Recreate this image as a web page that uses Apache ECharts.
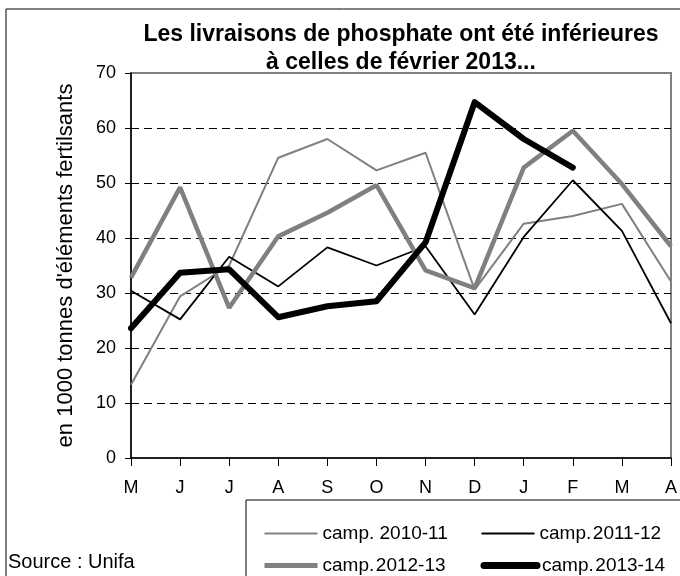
<!DOCTYPE html>
<html><head><meta charset="utf-8">
<script src="https://cdn.jsdelivr.net/npm/echarts@6/dist/echarts.min.js"></script>
<style>html,body{margin:0;padding:0;background:#fff}#c{width:680px;height:576px}</style>
</head><body><div id="c"></div>
<script>
const months = ['M','J','J','A','S','O','N','D','J','F','M','A'];
const yTicks = [0,10,20,30,40,50,60,70];
const names = ['camp. 2010-11','camp.\u200a2011-12','camp.\u200a2012-13','camp.\u200a2013-14'];
const s2010 = [13.3,29.4,35.0,54.6,58.0,52.3,55.5,30.6,42.6,44.0,46.2,32.1];
const s2011 = [30.4,25.2,36.6,31.2,38.3,35.0,38.5,26.1,40.2,50.5,41.3,24.5];
const s2012 = [32.8,49.2,27.3,40.3,44.6,49.6,34.1,30.9,52.8,59.5,49.8,38.5];
const s2013 = [23.6,33.7,34.3,25.6,27.6,28.5,39.2,64.7,58.0,52.8];

const font = 'Liberation Sans, Arial, sans-serif';
const chart = echarts.init(document.getElementById('c'));
chart.setOption({
  animation: false,
  title: {
    text: 'Les livraisons de phosphate ont été inférieures\nà celles de février 2013...',
    left: 396, top: 16, textAlign: 'center',
    textStyle: {fontFamily: font, fontSize: 23, fontWeight: 'bold', color: '#000', lineHeight: 28}
  },
  graphic: [
    {type: 'rect', shape: {x: 6, y: 9, width: 700, height: 600}, style: {fill: 'none', stroke: '#000', lineWidth: 1}, z: -10},
    {type: 'rect', shape: {x: 246, y: 500, width: 500, height: 100}, style: {fill: '#fff', stroke: '#000', lineWidth: 1}, z: 0},
    {type: 'text', left: 8, top: 552, style: {text: 'Source : Unifa', font: '20px ' + font, fill: '#000'}}
  ],
  legend: {
    data: [
      {name: names[0], lineStyle: {width: 2, color: '#808080'}},
      {name: names[1], lineStyle: {width: 2, color: '#000'}},
      {name: names[2], lineStyle: {width: 5, color: '#808080'}},
      {name: names[3], lineStyle: {width: 7, color: '#000', cap: 'round'}}
    ],
    left: 262, top: 524, width: 430, padding: 0,
    itemWidth: 53, itemHeight: 14, itemGap: 13,
    itemStyle: {opacity: 0},
    textStyle: {fontFamily: font, fontSize: 19, color: '#000', width: 145, lineHeight: 19},
    z: 5
  },
  grid: {left: 131, right: 8, top: 73, bottom: 118, show: true, borderColor: '#808080', borderWidth: 2},
  xAxis: {
    type: 'category', data: months, boundaryGap: false,
    axisLine: {lineStyle: {color: '#000', width: 1.5}},
    axisTick: {show: true, length: 8, lineStyle: {color: '#000'}},
    axisLabel: {fontFamily: font, fontSize: 18, color: '#000', margin: 21}
  },
  yAxis: {
    type: 'value', min: 0, max: 70, interval: 10,
    name: "en 1000 tonnes d'éléments fertilsants", nameLocation: 'middle', nameGap: 54,
    nameTextStyle: {fontFamily: font, fontSize: 22, color: '#000'},
    axisLine: {show: true, lineStyle: {color: '#000', width: 1.5}},
    axisTick: {show: true, length: 6, lineStyle: {color: '#000'}},
    axisLabel: {fontFamily: font, fontSize: 18, color: '#000', margin: 15,
      formatter: v => yTicks.includes(v) ? String(v) : ''},
    splitLine: {show: true, showMaxLine: false, showMinLine: false, lineStyle: {color: '#000', type: [8, 5], width: 1}}
  },
  series: [
    {name: names[0], type: 'line', data: s2010, symbol: 'none', lineStyle: {color: '#808080', width: 2}, itemStyle: {color: '#808080'}},
    {name: names[1], type: 'line', data: s2011, symbol: 'none', lineStyle: {color: '#000', width: 1.8}, itemStyle: {color: '#000'}},
    {name: names[2], type: 'line', data: s2012, symbol: 'none', lineStyle: {color: '#808080', width: 4.5}, itemStyle: {color: '#808080'}},
    {name: names[3], type: 'line', data: s2013, symbol: 'none', lineStyle: {color: '#000', width: 6, cap: 'round', join: 'round'}, itemStyle: {color: '#000'}}
  ]
});
</script></body></html>
